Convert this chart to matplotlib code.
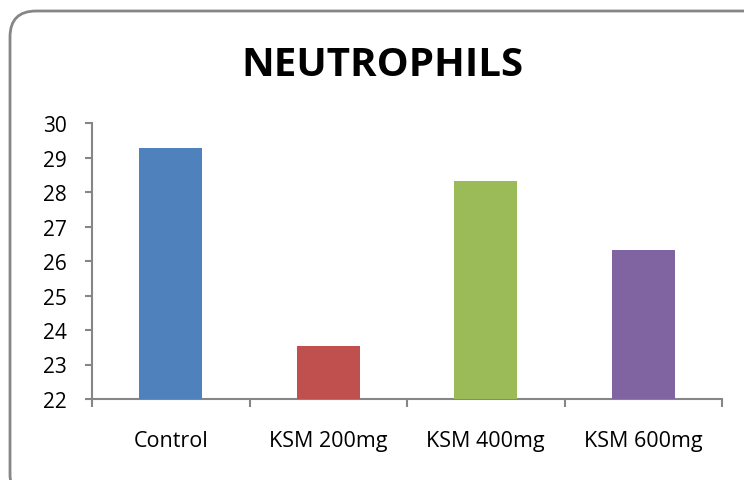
import matplotlib
matplotlib.use("Agg")
import matplotlib.pyplot as plt
from matplotlib.patches import FancyBboxPatch

# ---------------------------------------------------------------------------
# Data
# ---------------------------------------------------------------------------
groups = ["Control", "KSM 200mg", "KSM 400mg", "KSM 600mg"]
neutrophils = [29.27, 23.55, 28.32, 26.32]
bar_colors = ["#4F81BD", "#C0504D", "#9BBB59", "#8064A2"]
y_ticks = [22, 23, 24, 25, 26, 27, 28, 29, 30]

W, H = 744, 481
AXIS_GREY = "#868686"
FONT = ["Open Sans", "DejaVu Sans"]

fig = plt.figure(figsize=(W / 100, H / 100), dpi=100)

# rounded chart border, running off the right and bottom edges
border = FancyBboxPatch(
    (10 / W, -20 / H), (W + 20) / W, (H + 20 - 12) / H,
    boxstyle="round,pad=0,rounding_size=0.035",
    transform=fig.transFigure, facecolor="white",
    edgecolor=AXIS_GREY, linewidth=2, mutation_aspect=W / H, zorder=-5,
)
fig.patches.append(border)

# plot area in pixels: x 92..722, y 124..400
ax = fig.add_axes([92 / W, (H - 400) / H, (722 - 92) / W, (400 - 124) / H])
ax.set_zorder(2)
ax.set_facecolor("none")

x = range(len(groups))
ax.bar(x, [v - 22 for v in neutrophils], bottom=22, width=0.4,
       color=bar_colors, zorder=3)

ax.set_xlim(-0.5, len(groups) - 0.5)
ax.set_ylim(22, 30)
ax.set_yticks(y_ticks)
ax.set_yticklabels([str(t) for t in y_ticks], fontsize=15, family=FONT)

# category labels without ticks, boundary ticks on minor locator
ax.set_xticks(list(x))
ax.set_xticklabels(groups, fontsize=15.5, family=FONT)
ax.tick_params(axis="x", which="major", length=0, pad=22)
ax.set_xticks([i + 0.5 for i in range(-1, len(groups))], minor=True)
ax.tick_params(axis="x", which="minor", length=6, width=1.5, color=AXIS_GREY,
               direction="out")
ax.tick_params(axis="y", length=5, width=1.5, color=AXIS_GREY, pad=13)

for side in ["top", "right"]:
    ax.spines[side].set_visible(False)
for side in ["left", "bottom"]:
    ax.spines[side].set_color(AXIS_GREY)
    ax.spines[side].set_linewidth(1.5)

fig.text(382 / W, 1 - 66 / H, "NEUTROPHILS", ha="center", va="center",
         fontsize=29, fontweight="bold", family=FONT, zorder=3)

fig.savefig("out.png", dpi=100)
